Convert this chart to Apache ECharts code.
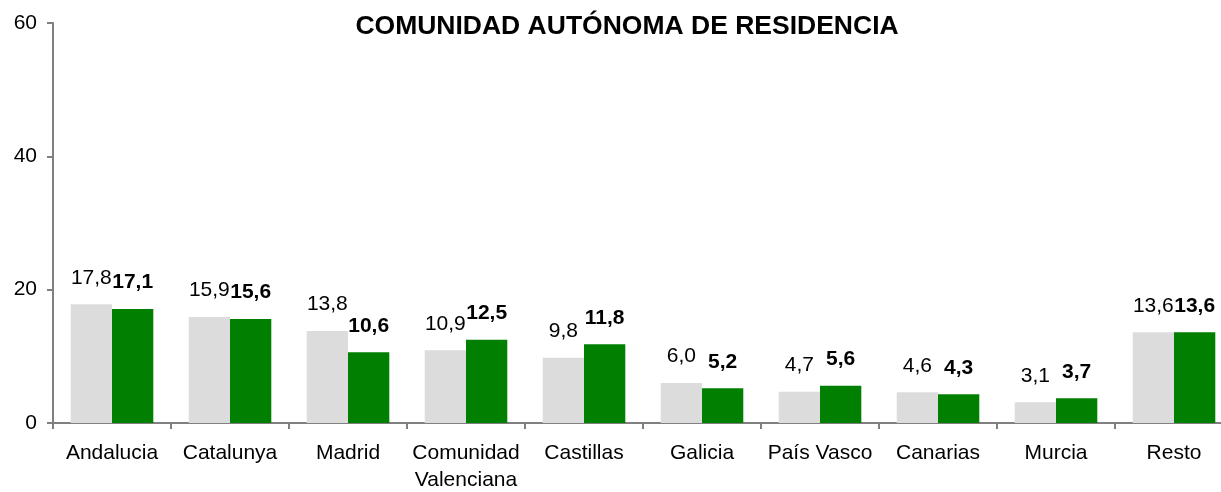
<!DOCTYPE html>
<html>
<head>
    <meta charset="UTF-8">
    <title>Comunidad autónoma de residencia</title>
    <style>
        html, body { margin: 0; padding: 0; background: #fff; }
        #main { width: 1221px; height: 492px; }
    </style>
</head>
<body>
<div id="main"></div>
<script src="https://cdn.jsdelivr.net/npm/echarts@6/dist/echarts.min.js"></script>
<script>
    // datos
    var categorias = ['Andalucia', 'Catalunya', 'Madrid', 'Comunidad\nValenciana', 'Castillas',
        'Galicia', 'País Vasco', 'Canarias', 'Murcia', 'Resto'];
    var serieGris = [17.8, 15.9, 13.8, 10.9, 9.8, 6.0, 4.7, 4.6, 3.1, 13.6];
    var serieVerde = [17.1, 15.6, 10.6, 12.5, 11.8, 5.2, 5.6, 4.3, 3.7, 13.6];
    var ticksY = [0, 20, 40, 60];

    var fuente = 'Liberation Sans, Arial, sans-serif';

    function coma(p) {
        return p.value.toFixed(1).replace('.', ',');
    }

    var myChart = echarts.init(document.getElementById('main'));

    var option = {
        animation: false,
        title: {
            text: 'COMUNIDAD AUTÓNOMA DE RESIDENCIA',
            left: 622,
            textAlign: 'center',
            top: 8,
            textStyle: {fontFamily: fuente, fontSize: 26.5, fontWeight: 'bold', color: '#000'}
        },
        // la última categoría queda cortada por el borde derecho, como en el original
        grid: {left: 53, top: 23, width: 1180, height: 400, containLabel: false, outerBoundsMode: 'none'},
        xAxis: {
            type: 'category',
            data: categorias,
            axisLine: {lineStyle: {color: '#808080', width: 2}},
            axisTick: {show: true, length: 6, lineStyle: {color: '#808080', width: 2}},
            axisLabel: {
                fontFamily: fuente, fontSize: 21, color: '#000', margin: 17, lineHeight: 27,
                interval: 0
            }
        },
        yAxis: {
            type: 'value',
            min: ticksY[0],
            max: ticksY[ticksY.length - 1],
            interval: 20,
            splitLine: {show: false},
            axisLine: {show: true, lineStyle: {color: '#808080', width: 2}},
            axisTick: {show: true, length: 6, lineStyle: {color: '#808080', width: 2}},
            axisLabel: {fontFamily: fuente, fontSize: 21, color: '#000', margin: 16}
        },
        series: [{
            name: 'gris',
            type: 'bar',
            data: serieGris,
            barGap: '0%',
            barCategoryGap: '30%',
            itemStyle: {color: '#dcdcdc'},
            label: {
                show: true, position: 'top', distance: 16,
                fontFamily: fuente, fontSize: 21, color: '#000',
                formatter: coma
            }
        }, {
            name: 'verde',
            type: 'bar',
            data: serieVerde,
            itemStyle: {color: '#007f00'},
            label: {
                show: true, position: 'top', distance: 16,
                fontFamily: fuente, fontSize: 21, fontWeight: 'bold', color: '#000',
                formatter: coma
            }
        }]
    };

    myChart.setOption(option);
</script>
</body>
</html>
